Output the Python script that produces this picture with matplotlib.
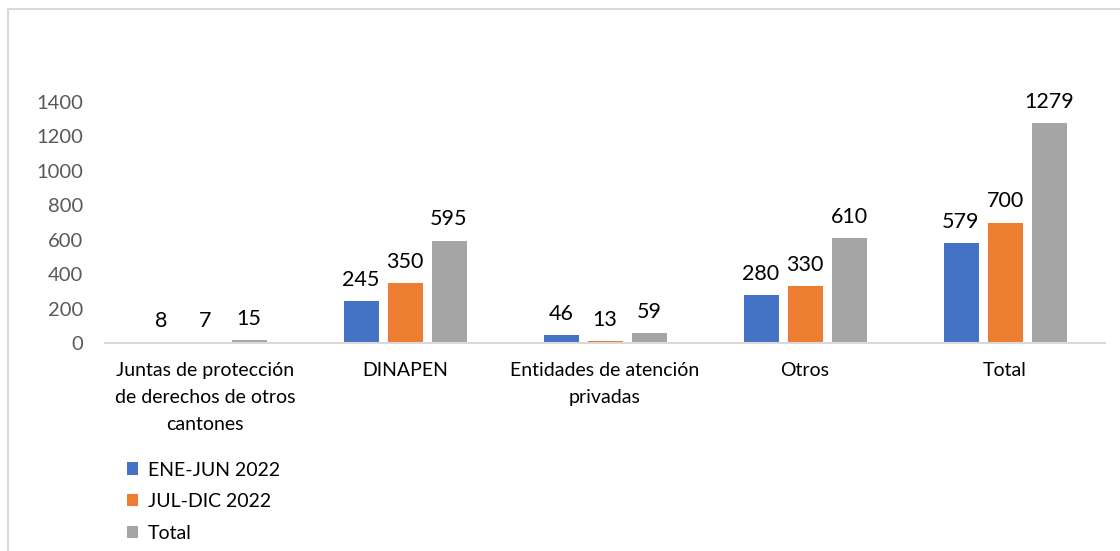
import matplotlib
matplotlib.use("Agg")
import matplotlib.pyplot as plt
from matplotlib.lines import Line2D
from matplotlib.patches import Patch
import numpy as np

plt.rcParams['font.family'] = ['Lato', 'DejaVu Sans']

categories = ["Juntas de protección\nde derechos de otros\ncantones", "DINAPEN",
              "Entidades de atención\nprivadas", "Otros", "Total"]
series_names = ["ENE-JUN 2022", "JUL-DIC 2022", "Total"]
ene_jun = [8, 245, 46, 280, 579]
jul_dic = [7, 350, 13, 330, 700]
total = [15, 595, 59, 610, 1279]
colors = ["#4472C4", "#ED7D31", "#A5A5A5"]
yticks = [0, 200, 400, 600, 800, 1000, 1200, 1400]

W, H = 1120, 551
fig = plt.figure(figsize=(W / 100, H / 100), dpi=100)
ax = fig.add_axes([105 / W, 1 - 343 / H, 1000 / W, (343 - 102) / H])
ax.set_ylim(0, 1400)
ax.set_xlim(-0.5, 4.5)

x = np.arange(len(categories))
width = 0.175
offsets = [-0.22, 0, 0.22]
for vals, off, c, name in zip([ene_jun, jul_dic, total], offsets, colors, series_names):
    bars = ax.bar(x + off, vals, width, color=c, label=name, zorder=2)
    for b, v in zip(bars, vals):
        ax.annotate(str(v), (b.get_x() + b.get_width() / 2, v), xytext=(0, 8),
                    textcoords="offset points", ha="center", va="bottom",
                    fontsize=15.5, color="#000000")

ax.set_yticks(yticks)
ax.set_yticklabels([str(t) for t in yticks], fontsize=14.5, color="#595959")
ax.set_xticks(x)
ax.set_xticklabels(categories, fontsize=14, color="#000000", linespacing=1.7)
ax.tick_params(axis='both', length=0)
ax.tick_params(axis='y', pad=16)
ax.tick_params(axis='x', pad=14)
for s in ["top", "right", "left"]:
    ax.spines[s].set_visible(False)
ax.spines["bottom"].set_color("#D9D9D9")
ax.spines["bottom"].set_linewidth(1.5)

handles = [Patch(facecolor=c) for c in colors]
leg = fig.legend(handles, series_names, loc="upper left",
                 bbox_to_anchor=(109 / W, 1 - 444 / H), frameon=False,
                 fontsize=14, handlelength=0.6, handleheight=0.6,
                 handletextpad=0.5, labelspacing=0.75)

fig.add_artist(Line2D([7.5 / W, 7.5 / W], [0, 1 - 8.5 / H], color="#D9D9D9", lw=1.5,
                      transform=fig.transFigure))
fig.add_artist(Line2D([7.5 / W, 1], [1 - 8.5 / H, 1 - 8.5 / H], color="#D9D9D9", lw=1.5,
                      transform=fig.transFigure))

fig.savefig("out.png", dpi=100)
